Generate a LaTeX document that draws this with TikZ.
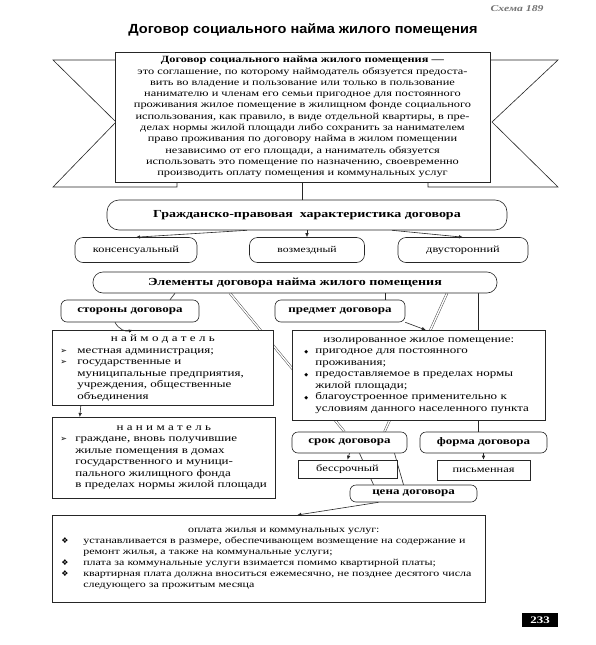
\documentclass[tikz,border=0pt]{standalone}
\usepackage{fontspec}
\setmainfont{Liberation Serif}[FakeStretch=1.3]
\newfontfamily\titlefnt{Liberation Sans}[FakeStretch=1.1]
\newfontfamily\symfnt{DejaVu Sans}
\usetikzlibrary{arrows.meta,backgrounds}
\newcommand\bitem[2]{\par\hangindent=#1\hangafter=1\noindent\makebox[#1][l]{#2}}
\newcommand\fsz[2]{\fontsize{#1}{#2}\selectfont}
\tikzset{
  ln/.style={draw=black!85, line width=0.6pt},
  rbox/.style={ln, rounded corners=8pt, fill=white, inner sep=0pt, align=center},
  sbox/.style={ln, fill=white, inner sep=0pt},
  arr/.style={draw=black!85, line width=0.6pt, -{Latex[length=4pt,width=3.5pt]}},
  conn/.style={draw=black!75, line width=0.45pt, double=white, double distance=1.4pt},
}
\begin{document}
\begin{tikzpicture}[x=1pt,y=-1pt]
\useasboundingbox (0,0) rectangle (595,645);

\node[font=\bfseries\itshape\fsz{9}{10}, text=black!55] (sch) at (517,9) {Схема 189};
\node[font=\titlefnt\bfseries\fsz{13.2}{15}] (ttl) at (303,30) {Договор социального найма жилого помещения};

% ribbon tails
\draw[ln, fill=white] (117,60) -- (53,60) -- (116,122) -- (53,187) -- (177,187) -- (177,180);
\draw[ln, fill=white] (488,60) -- (558,60) -- (492,122) -- (558,187) -- (428,187) -- (428,180);

\node[sbox, minimum width=375, minimum height=130, line width=0.9pt] (main) at (302.5,117)
 {\fsz{9.5}{11.3}\begin{tabular}{@{}c@{}}
 \textbf{Договор социального найма жилого помещения —}\\
 это соглашение, по которому наймодатель обязуется предоста-\\
 вить во владение и пользование или только в пользование\\
 нанимателю и членам его семьи пригодное для постоянного\\
 проживания жилое помещение в жилищном фонде социального\\
 использования, как правило, в виде отдельной квартиры, в пре-\\
 делах нормы жилой площади либо сохранить за нанимателем\\
 право проживания по договору найма в жилом помещении\\
 независимо от его площади, а наниматель обязуется\\
 использовать это помещение по назначению, своевременно\\
 производить оплату помещения и коммунальных услуг
 \end{tabular}};

\node[rbox, minimum width=400, minimum height=30, rounded corners=12pt, font=\bfseries\fsz{10.75}{12}] (grazh) at (307,215) {Гражданско-правовая\ \ характеристика договора};
\draw[ln] (main.south) -- (main.south |- grazh.north);

\node[rbox, minimum width=122, minimum height=25, font=\fsz{9.5}{11}] (kons) at (136,250) {консенсуальный};
\node[rbox, minimum width=115, minimum height=25, font=\fsz{9}{11}] (vozm) at (307,250) {возмездный};
\node[rbox, minimum width=130, minimum height=25, font=\fsz{9.5}{11}] (dvus) at (463,250) {двусторонний};
\draw[arr] ([xshift=-60]grazh.south) -- (kons.north);
\draw[arr] (grazh.south) -- (vozm.north);
\draw[arr] ([xshift=85]grazh.south) -- (dvus.north);

\node[rbox, minimum width=404, minimum height=21, rounded corners=10pt, font=\bfseries\fsz{10.8}{12}] (elem) at (295,282.5) {Элементы договора найма жилого помещения};

\node[rbox, minimum width=138, minimum height=22, rounded corners=6pt, font=\bfseries\fsz{10}{11}] (stor) at (130,311) {стороны договора};
\node[rbox, minimum width=130, minimum height=22, rounded corners=6pt, font=\bfseries\fsz{10}{11}] (pred) at (340,311) {предмет договора};
\draw[ln] ([xshift=40]stor.north) -- ([xshift=-120]elem.south);
\draw[ln] ([xshift=45]pred.north) -- ([xshift=90]elem.south);

\node[sbox, anchor=north west, minimum width=221, minimum height=75, text width=209pt, inner xsep=6pt, inner ysep=4pt, font=\fsz{10}{11.5}] (naim) at (52,330)
 {{\centering н а й м о д а т е л ь\par}\raggedright
  \bitem{19pt}{\symfnt\fsz{8}{9}\hspace*{2pt}➢}местная администрация;
  \bitem{19pt}{\symfnt\fsz{8}{9}\hspace*{2pt}➢}государственные и\newline муниципальные предприятия,\newline учреждения, общественные\newline объединения\par};

\node[sbox, anchor=north west, minimum width=223, minimum height=81, text width=215pt, inner xsep=4pt, inner ysep=4pt, font=\fsz{10}{11.5}] (nanim) at (52,417)
 {{\centering н а н и м а т е л ь\par}\raggedright
  \bitem{19pt}{\symfnt\fsz{8}{9}\hspace*{4pt}➢}граждане, вновь получившие\newline жилые помещения в домах\newline государственного и муници-\newline пального жилищного фонда\newline в пределах нормы жилой площади\par};

\node[sbox, anchor=north west, minimum width=253, minimum height=90, text width=229pt, inner xsep=12pt, inner ysep=4pt, font=\fsz{10}{11.5}] (izol) at (292,330)
 {{\centering изолированное жилое помещение:\par}\raggedright
  \bitem{11pt}{\symfnt\fsz{5}{6}◆}пригодное для постоянного\newline проживания;
  \bitem{11pt}{\symfnt\fsz{5}{6}◆}предоставляемое в пределах нормы\newline жилой площади;
  \bitem{11pt}{\symfnt\fsz{5}{6}◆}благоустроенное применительно к\newline условиям данного населенного пункта\par};

\node[rbox, minimum width=115, minimum height=21, rounded corners=6pt, font=\bfseries\fsz{10}{11}] (srok) at (349.5,442.5) {срок договора};
\node[rbox, minimum width=127, minimum height=21, rounded corners=6pt, font=\bfseries\fsz{10}{11}] (forma) at (483.5,442.5) {форма договора};
\node[sbox, minimum width=99, minimum height=18, font=\fsz{9.5}{11}] (bessr) at (347.5,469) {бессрочный};
\node[sbox, minimum width=93, minimum height=20, font=\fsz{9.5}{11}] (pism) at (483.5,470) {письменная};
\node[rbox, minimum width=127, minimum height=17, rounded corners=6pt, font=\bfseries\fsz{10}{11}] (cena) at (413.5,493.5) {цена договора};

\node[sbox, anchor=north west, minimum width=433, minimum height=87, text width=415pt, inner xsep=9pt, inner ysep=5pt, font=\fsz{9.2}{11}] (bott) at (52,515)
 {{\centering\hspace*{30pt}оплата жилья и коммунальных услуг:\par}\raggedright
  \bitem{22pt}{\symfnt\fsz{8}{9}❖}устанавливается в размере, обеспечивающем возмещение на содержание и\newline ремонт жилья, а также на коммунальные услуги;
  \bitem{22pt}{\symfnt\fsz{8}{9}❖}плата за коммунальные услуги взимается помимо квартирной платы;
  \bitem{22pt}{\symfnt\fsz{8}{9}❖}квартирная плата должна вноситься ежемесячно, не позднее десятого числа\newline следующего за прожитым месяца\par};

\node[fill=black, text=white, font=\bfseries\fsz{10}{11}, minimum width=36, minimum height=14, inner sep=0pt] (pg) at (540,620) {233};

% arrows
\draw[arr] ([xshift=-15]stor.south) to[bend right=40] ([xshift=-30]naim.north);
\draw[arr] ([xshift=-82]naim.south) -- ([xshift=-84]nanim.north);
\draw[arr] (pred.south east) -- ([xshift=7]izol.north);
\draw[arr] (srok.south) -- (bessr.north);
\draw[arr] (forma.south) -- (pism.north);
\draw[arr] ([xshift=-35]cena.south) -- ([xshift=28.5]bott.north);

\begin{scope}[on background layer]
\fill[white] (0,0) rectangle (595,645);
\draw[conn] ([xshift=-65]elem.south) -- ([xshift=-5]srok.north);
\draw[conn] ([xshift=152]elem.south) -- ([xshift=35]srok.north);
\draw[ln] ([xshift=183]elem.south) -- ([xshift=183]elem.south |- forma.north);
\draw[ln] ([xshift=10]srok.south) -- ([xshift=-40]cena.north);
\draw[ln] ([xshift=45]srok.south) -- ([xshift=-10]cena.north);
\end{scope}
\end{tikzpicture}
\end{document}
